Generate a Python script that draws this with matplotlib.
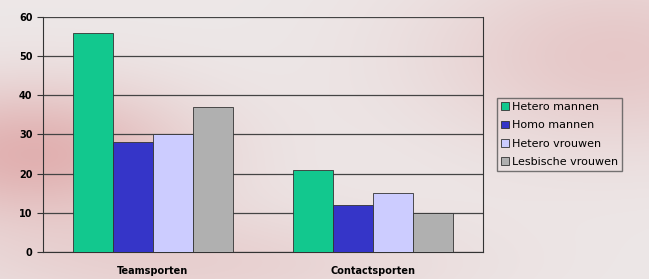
import numpy as np
import matplotlib.pyplot as plt

categories = ["Teamsporten", "Contactsporten"]
series = ["Hetero mannen", "Homo mannen", "Hetero vrouwen", "Lesbische vrouwen"]
hetero_mannen = [56, 21]
homo_mannen = [28, 12]
hetero_vrouwen = [30, 15]
lesbische_vrouwen = [37, 10]
colors = ["#12c88e", "#3535c8", "#ccccff", "#b0b0b0"]

fig = plt.figure(figsize=(6.49, 2.79), dpi=100)

# soft pink/grey background like the original picture
bg = fig.add_axes([0, 0, 1, 1], zorder=-10)
yy, xx = np.mgrid[0:1:279j, 0:1:649j]
blob = np.exp(-(((xx - 0.05) / 0.25) ** 2 + ((yy - 0.55) / 0.25) ** 2))
blob2 = np.exp(-(((xx - 0.95) / 0.3) ** 2 + ((yy - 0.2) / 0.35) ** 2))
blob3 = np.exp(-(((xx - 0.3) / 0.4) ** 2 + ((yy - 0.95) / 0.2) ** 2))
base = np.array([0.93, 0.91, 0.91])
red = np.array([0.85, 0.55, 0.55])
shade = np.clip(blob * 0.6 + blob2 * 0.35 + blob3 * 0.25, 0, 1)[..., None]
img = base * (1 - shade) + red * shade
bg.imshow(img, aspect="auto", extent=[0, 1, 0, 1])
bg.axis("off")

ax = fig.add_axes([0.066, 0.097, 0.678, 0.842])
ax.patch.set_alpha(0)
x = np.arange(len(categories))
w = 0.182
data = [hetero_mannen, homo_mannen, hetero_vrouwen, lesbische_vrouwen]
for i, (vals, name) in enumerate(zip(data, series)):
    ax.bar(x + (i - 1.5) * w, vals, w, color=colors[i], edgecolor="#333333",
           linewidth=0.6, label=name, zorder=3)

ax.set_xlim(-0.5, 1.5)
ax.set_ylim(0, 60)
ax.set_yticks(range(0, 61, 10))
ax.yaxis.grid(True, color="#444444", linewidth=0.9, zorder=0)
ax.set_xticks(x)
ax.set_xticklabels(categories, fontsize=7, fontweight="bold")
ax.tick_params(axis="y", labelsize=7, length=4, color="#333333")
for t in ax.get_yticklabels():
    t.set_fontweight("bold")
ax.tick_params(axis="x", length=0, pad=10)
ax.spines["top"].set_visible(False)
for s in ["left", "bottom", "right"]:
    ax.spines[s].set_color("#333333")

leg = fig.legend(loc="upper left", bbox_to_anchor=(0.757, 0.668), fontsize=8,
                 frameon=True, fancybox=False, handlelength=0.7, handleheight=0.7,
                 handletextpad=0.3, labelspacing=0.75, borderpad=0.35)
leg.get_frame().set_edgecolor("#555555")
leg.get_frame().set_facecolor("none")

fig.savefig("out.png", dpi=100)
